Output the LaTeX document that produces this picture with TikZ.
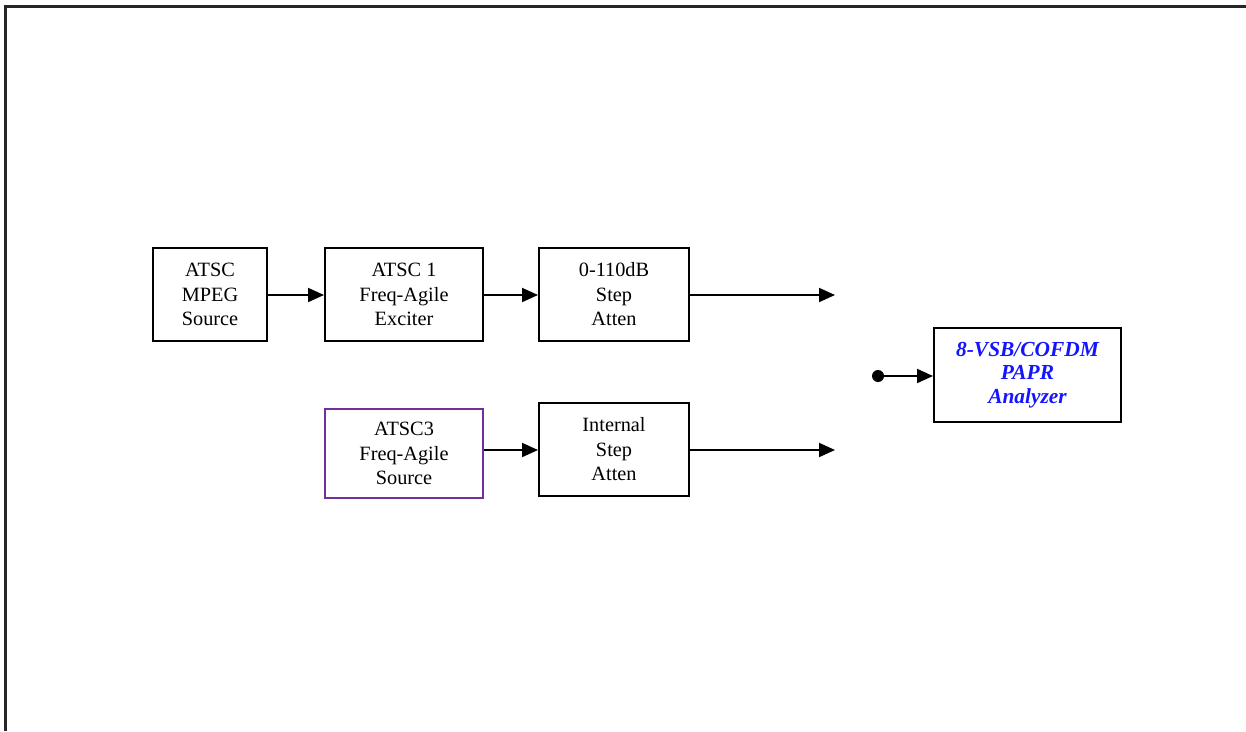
\documentclass[tikz,border=0pt]{standalone}
\usepackage{fontspec}
\setmainfont{Liberation Serif}
\usetikzlibrary{arrows.meta}
\definecolor{boxpurple}{RGB}{112,48,160}
\definecolor{anablue}{RGB}{20,20,255}
\begin{document}
\begin{tikzpicture}[x=1pt,y=-1pt,
  blk/.style={draw=black,line width=2pt,inner sep=0pt,align=center,
    font=\fontsize{20.3}{24.5}\selectfont},
  conn/.style={line width=2pt,-{Triangle[length=16pt,width=14pt]}}]
\useasboundingbox (0,0) rectangle (1246,731);
% frame (top and left edges only)
\draw[line width=2.2pt,black!85] (5.5,731) -- (5.5,6.5) -- (1246,6.5);
% boxes
\node[blk,minimum width=114pt,minimum height=93pt] (mpeg) at (210,294.5) {ATSC\\MPEG\\Source};
\node[blk,minimum width=158pt,minimum height=93pt] (exc) at (404,294.5) {ATSC 1\\Freq-Agile\\Exciter};
\node[blk,minimum width=150pt,minimum height=93pt] (att) at (614,294.5) {0-110dB\\Step\\Atten};
\node[blk,draw=boxpurple,minimum width=158pt,minimum height=89pt] (a3) at (404,453.5) {ATSC3\\Freq-Agile\\Source};
\node[blk,minimum width=150pt,minimum height=93pt] (iatt) at (614,449.5) {Internal\\Step\\Atten};
\node[blk,minimum width=187pt,minimum height=94pt,text=anablue,
  font=\fontsize{21.4}{23.5}\selectfont\bfseries\itshape] (ana) at (1027.5,375) {8-VSB/COFDM\\PAPR\\Analyzer};
\node[circle,fill=black,inner sep=0pt,minimum size=12pt] (dot) at (878,376) {};
\coordinate (o1) at (835,295);
\coordinate (o2) at (835,450);
% connectors
\draw[conn] (mpeg.east |- o1) -- (exc.west |- o1);
\draw[conn] (exc.east |- o1) -- (att.west |- o1);
\draw[conn] (att.east |- o1) -- (o1);
\draw[conn] (a3.east |- o2) -- (iatt.west |- o2);
\draw[conn] (iatt.east |- o2) -- (o2);
\draw[conn] (dot.center) -- (ana.west |- dot);
\end{tikzpicture}
\end{document}
